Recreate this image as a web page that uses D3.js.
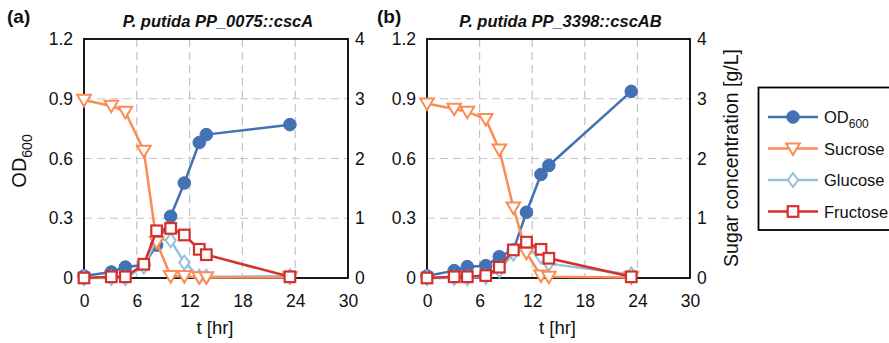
<!DOCTYPE html>
<html><head><meta charset="utf-8">
<script src="https://cdn.jsdelivr.net/npm/d3@7"></script>
<style>body{margin:0;background:#fff}svg{display:block}text{font-family:"Liberation Sans",Arial,sans-serif;fill:#111}</style>
</head><body><svg id="c" width="889" height="343"></svg>
<script>
// ---- data ----
const timeA = [0, 3.1, 4.7, 6.8, 8.25, 9.85, 11.4, 13.1, 13.9, 23.4];
const odA = [0.01, 0.03, 0.055, 0.065, 0.165, 0.31, 0.477, 0.68, 0.72, 0.77];
const sucroseA = [2.98, 2.88, 2.78, 2.13, 0.6, 0.03, 0.03, 0.01, 0.01, 0.01];
const glucoseA = [0.0, 0.0, 0.0, 0.19, 0.65, 0.63, 0.26, 0.02, 0.02, 0.03];
const fructoseA = [0.0, 0.02, 0.02, 0.23, 0.79, 0.83, 0.72, 0.48, 0.39, 0.02];

const timeB = [0, 3.1, 4.6, 6.7, 8.25, 9.85, 11.35, 13.0, 13.9, 23.3];
const odB = [0.01, 0.037, 0.057, 0.062, 0.107, 0.14, 0.33, 0.52, 0.565, 0.937];
const sucroseB = [2.92, 2.83, 2.78, 2.66, 2.15, 1.18, 0.42, 0.04, 0.02, 0.01];
const glucoseB = [0.0, 0.0, 0.0, 0.02, 0.13, 0.41, 0.5, 0.36, 0.24, 0.06];
const fructoseB = [0.0, 0.02, 0.02, 0.04, 0.18, 0.47, 0.6, 0.48, 0.33, 0.02];

const titles = ["P. putida PP_0075::cscA", "P. putida PP_3398::cscAB"];
const panelLabels = ["(a)", "(b)"];
const xTicks = [0, 6, 12, 18, 24, 30];
const odTicks = [0, 0.3, 0.6, 0.9, 1.2];
const sugarTicks = [0, 1, 2, 3, 4];
const seriesNames = ["OD600", "Sucrose", "Glucose", "Fructose"];

// ---- styles ----
const colors = {OD600: "#4371B4", Sucrose: "#FA8C55", Glucose: "#94C1E0", Fructose: "#D5302B"};
const svg = d3.select("#c");

const panels = [
  {x0: 84, x1: 348, lab: 7, t: timeA, od: odA, suc: sucroseA, glu: glucoseA, fru: fructoseA},
  {x0: 427, x1: 690, lab: 377, t: timeB, od: odB, suc: sucroseB, glu: glucoseB, fru: fructoseB}
];
const yTop = 39, yBot = 278;

function marker(g, type, x, y, col) {
  if (type === "OD600") {
    g.append("circle").attr("cx", x).attr("cy", y).attr("r", 6.3).attr("fill", col).attr("stroke", col);
  } else if (type === "Sucrose") {
    const s = 6.8;
    g.append("path").attr("d", `M${x - s},${y - s * 0.75}L${x + s},${y - s * 0.75}L${x},${y + s * 0.95}Z`)
      .attr("fill", "#fff").attr("stroke", col).attr("stroke-width", 2);
  } else if (type === "Glucose") {
    const s = 7;
    g.append("path").attr("d", `M${x},${y - s}L${x + s * 0.72},${y}L${x},${y + s}L${x - s * 0.72},${y}Z`)
      .attr("fill", "#fff").attr("stroke", col).attr("stroke-width", 2);
  } else {
    const s = 5.3;
    g.append("rect").attr("x", x - s).attr("y", y - s).attr("width", 2 * s).attr("height", 2 * s)
      .attr("fill", "#fff").attr("stroke", col).attr("stroke-width", 2.2);
  }
}

panels.forEach((p, i) => {
  const x = d3.scaleLinear().domain([0, 30]).range([p.x0, p.x1]);
  const yL = d3.scaleLinear().domain([0, 1.2]).range([yBot, yTop]);
  const yR = d3.scaleLinear().domain([0, 4]).range([yBot, yTop]);
  const g = svg.append("g");

  // grid
  g.selectAll(".gx").data(xTicks.slice(1, -1)).enter().append("line")
    .attr("x1", d => x(d)).attr("x2", d => x(d)).attr("y1", yTop).attr("y2", yBot)
    .attr("stroke", "#c4c4c4").attr("stroke-width", 1.2).attr("stroke-dasharray", "8,5");
  g.selectAll(".gy").data(odTicks.slice(1, -1)).enter().append("line")
    .attr("x1", p.x0).attr("x2", p.x1).attr("y1", d => yL(d)).attr("y2", d => yL(d))
    .attr("stroke", "#c4c4c4").attr("stroke-width", 1.2).attr("stroke-dasharray", "8,5");

  // axes
  const ax = g.append("g").attr("transform", `translate(0,${yBot})`)
    .call(d3.axisBottom(x).tickValues(xTicks).tickSize(0).tickPadding(17).tickFormat(d3.format("d")));
  const al = g.append("g").attr("transform", `translate(${p.x0},0)`)
    .call(d3.axisLeft(yL).tickValues(odTicks).tickSize(0).tickPadding(11).tickFormat(d => d === 0 ? "0" : d3.format(".1f")(d)));
  const ar = g.append("g").attr("transform", `translate(${p.x1},0)`)
    .call(d3.axisRight(yR).tickValues(sugarTicks).tickSize(0).tickPadding(7).tickFormat(d3.format("d")));
  [ax, al, ar].forEach(a => {
    a.select(".domain").remove();
    a.selectAll("text").attr("font-size", 17.5).attr("fill", "#111").attr("font-family", "Liberation Sans, Arial, sans-serif");
  });
  g.append("rect").attr("x", p.x0).attr("y", yTop).attr("width", p.x1 - p.x0).attr("height", yBot - yTop)
    .attr("fill", "none").attr("stroke", "#000").attr("stroke-width", 1.8);

  // series
  const series = [
    {name: "OD600", vals: p.od, y: yL},
    {name: "Glucose", vals: p.glu, y: yR},
    {name: "Sucrose", vals: p.suc, y: yR},
    {name: "Fructose", vals: p.fru, y: yR}
  ];
  const line = d3.line();
  series.forEach(s => {
    const pts = p.t.map((t, k) => [x(t), s.y(s.vals[k])]);
    g.append("path").attr("d", line(pts)).attr("fill", "none").attr("stroke", colors[s.name]).attr("stroke-width", 2.5);
    pts.forEach(pt => marker(g, s.name, pt[0], pt[1], colors[s.name]));
  });

  // labels
  g.append("text").attr("x", (p.x0 + p.x1) / 2 + 2).attr("y", 27).attr("text-anchor", "middle")
    .attr("font-size", 16.5).attr("font-weight", "bold").attr("font-style", "italic").text(titles[i]);
  g.append("text").attr("x", p.lab).attr("y", 23).attr("font-size", 19).attr("font-weight", "bold").text(panelLabels[i]);
  g.append("text").attr("x", (p.x0 + p.x1) / 2 - 1).attr("y", 334).attr("text-anchor", "middle")
    .attr("font-size", 18.5).text("t [hr]");
});

// left y label OD600
const ol = svg.append("text").attr("transform", "translate(26,161) rotate(-90)").attr("text-anchor", "middle").attr("font-size", 20);
ol.append("tspan").text("OD");
ol.append("tspan").attr("font-size", 14).attr("dy", 6).text("600");

// right y label
svg.append("text").attr("transform", "translate(738,158) rotate(-90)").attr("text-anchor", "middle")
  .attr("font-size", 19.5).text("Sugar concentration [g/L]");

// legend
const lg = svg.append("g");
lg.append("rect").attr("x", 758.5).attr("y", 87.5).attr("width", 150).attr("height", 142.5)
  .attr("fill", "#fff").attr("stroke", "#000").attr("stroke-width", 1.8);
seriesNames.forEach((n, k) => {
  const yy = 117 + k * 31.5;
  lg.append("line").attr("x1", 768).attr("x2", 818).attr("y1", yy).attr("y2", yy).attr("stroke", colors[n]).attr("stroke-width", 2.5);
  marker(lg, n, 793, yy, colors[n]);
  const t = lg.append("text").attr("x", 824).attr("y", yy + 6).attr("font-size", 16.5);
  if (n === "OD600") {
    t.append("tspan").text("OD");
    t.append("tspan").attr("font-size", 12).attr("dy", 5).text("600");
  } else t.text(n);
});
</script></body></html>
